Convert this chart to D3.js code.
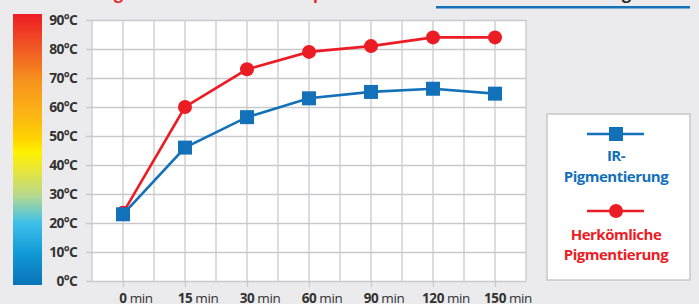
<!DOCTYPE html>
<html>
<head>
<meta charset="utf-8">
<script src="https://cdn.jsdelivr.net/npm/d3@7"></script>
<style>
  body { margin: 0; background: #ebebed; }
  svg { display: block; }
  text { font-family: "Open Sans", "Noto Sans", sans-serif; }
</style>
</head>
<body>
<div class="graph"></div>
<script>
const times = ['0', '15', '30', '60', '90', '120', '150'];
const irValues = [23, 46, 56.5, 63, 65.2, 66.3, 64.6];
const oldValues = [23.5, 60, 73, 79, 81, 84, 84];
const tempTicks = [0, 10, 20, 30, 40, 50, 60, 70, 80, 90];
const seriesNames = [['IR-', 'Pigmentierung'], ['Herkömliche', 'Pigmentierung']];

const dim = { w: 699, h: 304, left: 92, right: 526, top: 20, bottom: 281 };
const blue = '#1371b9', red = '#ec1c24', grid = '#c9c9cd';

const svg = d3.select('.graph').append('svg').attr('width', dim.w).attr('height', dim.h);

// heading above is cut off, only descenders show
svg.append('text').attr('x', 114).attr('y', -1).attr('fill', red)
    .attr('font-size', 16).attr('font-weight', 'bold').text('g');
svg.append('text').attr('x', 313).attr('y', -1).attr('fill', red)
    .attr('font-size', 16).attr('font-weight', 'bold').text('p');
svg.append('text').attr('x', 622).attr('y', -1).attr('fill', '#222')
    .attr('font-size', 16).attr('font-weight', 'bold').text('g');
svg.append('rect').attr('x', 436).attr('y', 6).attr('width', 254).attr('height', 2.5).attr('fill', blue);

const xScale = d3.scalePoint().domain(times).range([dim.left, dim.right]).padding(0.5);
const yScale = d3.scaleLinear().domain([0, 90]).range([dim.bottom, dim.top]);

// colour bar
const defs = svg.append('defs');
const grad = defs.append('linearGradient').attr('id', 'tempGrad')
    .attr('x1', 0).attr('y1', 0).attr('x2', 0).attr('y2', 1);
[[0, '#ed1c24'], [0.13, '#f15a24'], [0.25, '#f7941d'], [0.36, '#fbb216'],
 [0.46, '#ffd200'], [0.51, '#fff200'], [0.58, '#e6e53c'], [0.67, '#b7d98e'],
 [0.77, '#3fc0ea'], [0.88, '#119bd7'], [1, '#0b72b8']]
    .forEach(s => grad.append('stop').attr('offset', s[0]).attr('stop-color', s[1]));
svg.append('rect').attr('x', 13).attr('y', 14).attr('width', 29).attr('height', 271)
    .attr('fill', 'url(#tempGrad)');

// plot area
svg.append('rect').attr('x', dim.left).attr('y', dim.top)
    .attr('width', dim.right - dim.left).attr('height', dim.bottom - dim.top).attr('fill', '#fff');

const step = xScale.step() / 2;
const vLines = d3.range(0, 15).map(i => dim.left + i * step);
svg.append('g').selectAll('line').data(vLines).join('line')
    .attr('x1', d => d).attr('x2', d => d).attr('y1', dim.top).attr('y2', dim.bottom)
    .attr('stroke', grid).attr('stroke-width', 1.3);

const yAxis = d3.axisLeft(yScale).tickValues(tempTicks)
    .tickSize(dim.right - dim.left + 6).tickFormat(d => d + '°C').tickPadding(9);
svg.append('g').attr('transform', `translate(${dim.right},0)`).call(yAxis)
    .call(g => g.select('.domain').remove())
    .call(g => g.selectAll('line').attr('stroke', grid).attr('stroke-width', 1.3))
    .call(g => g.selectAll('text').attr('fill', '#333').attr('font-size', 13.8)
        .attr('font-weight', 'bold').attr('letter-spacing', -0.7)
        .attr('font-family', '"Open Sans", sans-serif'));

const xAxis = d3.axisBottom(xScale).tickSize(6).tickFormat('');
svg.append('g').attr('transform', `translate(0,${dim.bottom})`).call(xAxis)
    .call(g => g.select('.domain').remove())
    .call(g => g.selectAll('line').attr('stroke', grid).attr('stroke-width', 1.3));

const xl = svg.append('g').selectAll('g').data(times).join('g');
xl.append('text').attr('x', d => xScale(d)).attr('y', 303)
    .attr('text-anchor', 'middle').attr('font-size', 13.5).attr('font-weight', 'bold')
    .attr('letter-spacing', -0.4).attr('fill', '#333').text(d => d);
xl.each(function (d) {
    const w = d3.select(this).select('text').node().getComputedTextLength();
    d3.select(this).append('text').attr('x', xScale(d) + w / 2 + 3).attr('y', 303)
        .attr('font-size', 13.5).attr('letter-spacing', -0.4).attr('fill', '#333').text('min');
});

// series
const line = d3.line().x((d, i) => xScale(times[i])).y(d => yScale(d));
svg.append('path').datum(oldValues).attr('d', line).attr('fill', 'none')
    .attr('stroke', red).attr('stroke-width', 2.6);
svg.append('g').selectAll('circle').data(oldValues).join('circle')
    .attr('cx', (d, i) => xScale(times[i])).attr('cy', d => yScale(d)).attr('r', 7).attr('fill', red);
svg.append('path').datum(irValues).attr('d', line).attr('fill', 'none')
    .attr('stroke', blue).attr('stroke-width', 2.6);
svg.append('g').selectAll('rect').data(irValues).join('rect')
    .attr('x', (d, i) => xScale(times[i]) - 7).attr('y', d => yScale(d) - 7)
    .attr('width', 14).attr('height', 14).attr('fill', blue);

// legend
const lg = svg.append('g');
lg.append('rect').attr('x', 547).attr('y', 114).attr('width', 143).attr('height', 166)
    .attr('fill', '#fff').attr('stroke', '#c8c8c8').attr('stroke-width', 1.5);
const lx = 616;
lg.append('line').attr('x1', 587).attr('x2', 644).attr('y1', 134).attr('y2', 134)
    .attr('stroke', blue).attr('stroke-width', 2.6);
lg.append('rect').attr('x', lx - 7).attr('y', 127).attr('width', 14).attr('height', 14).attr('fill', blue);
lg.append('line').attr('x1', 587).attr('x2', 644).attr('y1', 211).attr('y2', 211)
    .attr('stroke', red).attr('stroke-width', 2.6);
lg.append('circle').attr('cx', lx).attr('cy', 211).attr('r', 7).attr('fill', red);
[[seriesNames[0], blue, [161, 182]], [seriesNames[1], red, [240, 260]]].forEach(s => {
    s[0].forEach((t, i) => lg.append('text').attr('x', lx).attr('y', s[2][i])
        .attr('text-anchor', 'middle').attr('font-size', 15).attr('font-weight', 'bold')
        .attr('letter-spacing', -0.5).attr('fill', s[1]).text(t));
});
</script>
</body>
</html>
